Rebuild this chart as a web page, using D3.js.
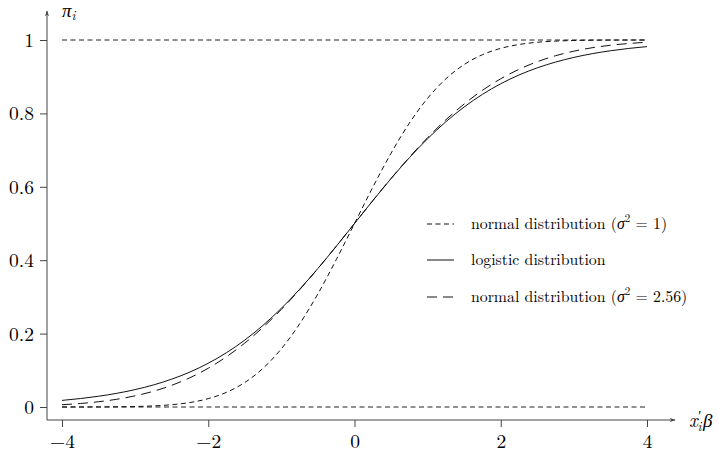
<!DOCTYPE html>
<html><head><meta charset="utf-8">
<script src="https://cdn.jsdelivr.net/npm/d3@7"></script>
<style>body{margin:0;background:#fff}svg{display:block}</style>
</head><body><svg id="c" width="719" height="453"></svg>
<script>
const xs = [-4,-3.75,-3.5,-3.25,-3,-2.75,-2.5,-2.25,-2,-1.75,-1.5,-1.25,-1,-0.75,-0.5,-0.25,0,0.25,0.5,0.75,1,1.25,1.5,1.75,2,2.25,2.5,2.75,3,3.25,3.5,3.75,4];
const normal1 = [0.00003,0.00009,0.00023,0.00058,0.00135,0.00298,0.00621,0.01222,0.02275,0.04006,0.06681,0.10565,0.15866,0.22663,0.30854,0.40129,0.5,0.59871,0.69146,0.77337,0.84134,0.89435,0.93319,0.95994,0.97725,0.98778,0.99379,0.99702,0.99865,0.99942,0.99977,0.99991,0.99997];
const logistic = [0.01799,0.02298,0.02931,0.03732,0.04743,0.06009,0.07586,0.09534,0.11920,0.14805,0.18243,0.22270,0.26894,0.32082,0.37754,0.43782,0.5,0.56218,0.62246,0.67918,0.73106,0.77730,0.81757,0.85195,0.88080,0.90466,0.92414,0.93991,0.95257,0.96268,0.97069,0.97702,0.98201];
const normal256 = [0.00621,0.00955,0.01435,0.02111,0.03040,0.04283,0.05908,0.07983,0.10565,0.13703,0.17425,0.21733,0.26599,0.31963,0.37733,0.43792,0.5,0.56208,0.62267,0.68037,0.73401,0.78267,0.82575,0.86297,0.89435,0.92017,0.94092,0.95717,0.96960,0.97889,0.98565,0.99045,0.99379];
const xTicks = [-4,-2,0,2,4];
const yTicks = [0,0.2,0.4,0.6,0.8,1];
const yTickLabels = ["0","0.2","0.4","0.6","0.8","1"];
const refLines = [0,1];
const legendLabels = [["normal distribution (","1",")"],["logistic distribution"],["normal distribution (","2.56",")"]];

const FONT = '"Latin Modern Roman","Liberation Serif",serif';
const svg = d3.select("#c");
const x = d3.scaleLinear().domain([-4,4]).range([62,647]);
const y = d3.scaleLinear().domain([0,1]).range([407,40]);
const axX = 47, axY = 420;
const axisCol = "#444";

svg.append("defs").append("marker").attr("id","arr").attr("viewBox","0 0 10 10").attr("refX",9).attr("refY",5)
  .attr("markerWidth",6).attr("markerHeight",6).attr("markerUnits","userSpaceOnUse").attr("orient","auto")
  .append("path").attr("d","M0,1.5 L10,5 L0,8.5 L3,5 Z").attr("fill",axisCol);
svg.append("line").attr("x1",axX).attr("x2",axX).attr("y1",axY).attr("y2",11).attr("stroke",axisCol).attr("stroke-width",1).attr("marker-end","url(#arr)");
svg.append("line").attr("x1",axX).attr("x2",675).attr("y1",axY).attr("y2",axY).attr("stroke",axisCol).attr("stroke-width",1).attr("marker-end","url(#arr)");

const xg = svg.append("g").attr("transform",`translate(0,${axY})`);
xg.call(d3.axisBottom(x).tickValues(xTicks).tickSize(7).tickPadding(6).tickFormat(d => d<0 ? "\u2212"+Math.abs(d) : String(d)));
xg.select(".domain").remove();
xg.selectAll("line").attr("stroke",axisCol);
xg.selectAll("text").style("font-family",FONT).style("font-size","19.5px").attr("dy","0.76em").attr("fill","#000");

const yg = svg.append("g").attr("transform",`translate(${axX},0)`);
yg.call(d3.axisLeft(y).tickValues(yTicks).tickSize(7).tickFormat((d,i) => yTickLabels[i]));
yg.select(".domain").remove();
yg.selectAll("line").attr("stroke",axisCol);
yg.selectAll("text").style("font-family",FONT).style("font-size","19.5px").attr("x",-13).attr("dy","0.33em").attr("fill","#000");

svg.selectAll(".ref").data(refLines).enter().append("line")
  .attr("x1",x(-4)).attr("x2",x(4)).attr("y1",d=>y(d)).attr("y2",d=>y(d))
  .attr("stroke","#222").attr("stroke-width",1).attr("stroke-dasharray","5,3.5");

const line = d3.line().x((d,i)=>x(xs[i])).y(d=>y(d)).curve(d3.curveMonotoneX);
const series = [
  {vals: normal1, dash: "5,3.5"},
  {vals: logistic, dash: null},
  {vals: normal256, dash: "10,6"}
];
series.forEach(s => {
  svg.append("path").attr("d", line(s.vals)).attr("fill","none").attr("stroke","#111").attr("stroke-width",1)
    .attr("stroke-dasharray", s.dash);
});

const rowsY = [224,260,297];
series.forEach((s,i) => {
  svg.append("line").attr("x1",427).attr("x2",454).attr("y1",rowsY[i]).attr("y2",rowsY[i])
    .attr("stroke","#111").attr("stroke-width",1).attr("stroke-dasharray", s.dash);
  const t = svg.append("text").attr("x",471).attr("y",rowsY[i]+5).style("font-family",FONT).style("font-size","15.8px");
  const lab = legendLabels[i];
  if (lab.length === 1) { t.text(lab[0]); }
  else {
    t.append("tspan").text(lab[0]);
    t.append("tspan").style("font-style","italic").text("\u03C3");
    t.append("tspan").style("font-size","11px").attr("dy",-7).text("2");
    t.append("tspan").attr("dy",7).text(" = " + lab[1] + lab[2]);
  }
});

// axis labels
const pl = svg.append("text").attr("x",62).attr("y",17).style("font-family",FONT).style("font-size","19px").style("font-style","italic");
pl.append("tspan").text("\u03C0");
pl.append("tspan").style("font-size","13px").attr("dy",3).text("i");

const xl = svg.append("text").attr("x",689).attr("y",427).style("font-family",FONT).style("font-size","19px").style("font-style","italic");
xl.append("tspan").text("x");
xl.append("tspan").style("font-style","normal").style("font-size","14px").attr("dy",-6).attr("dx",0.5).text("\u2032");
xl.append("tspan").style("font-size","13px").attr("dy",10).attr("dx",-4).text("i");
xl.append("tspan").attr("dy",-4).attr("dx",1.5).text("\u03B2");
</script></body></html>
